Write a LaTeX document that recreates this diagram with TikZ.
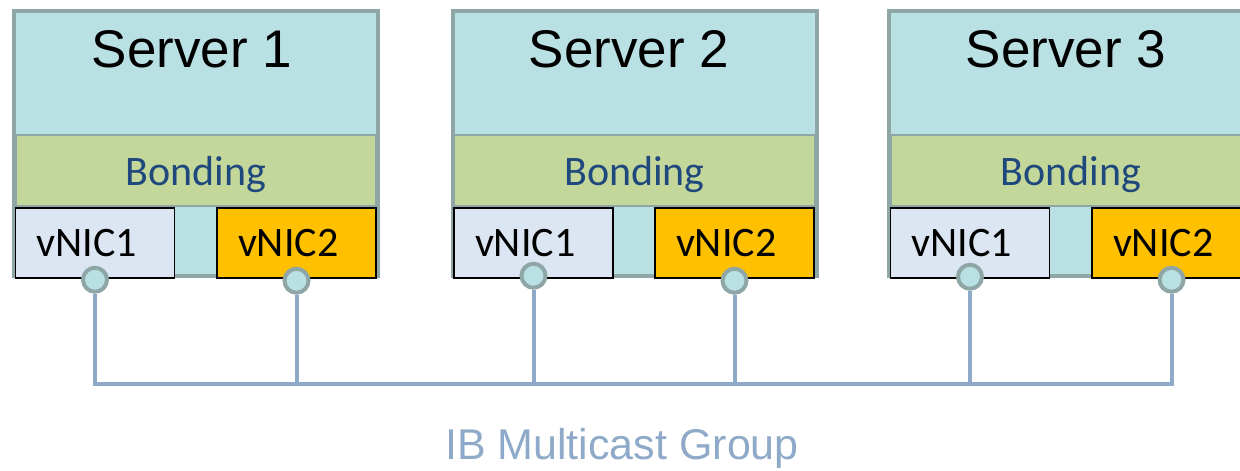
\documentclass[tikz,border=0pt]{standalone}
\usepackage{fontspec}
\setmainfont{Liberation Sans}
\newfontfamily\calibri{Carlito}
\usepackage{tikz}

\definecolor{serverfill}{HTML}{B9E0E3}
\definecolor{servergray}{HTML}{8FA6A6}
\definecolor{bondfill}{HTML}{C4D79B}
\definecolor{bondtext}{HTML}{1F497D}
\definecolor{nicone}{HTML}{DCE6F2}
\definecolor{nictwo}{HTML}{FFC000}
\definecolor{wirecol}{HTML}{8EAAC8}

\begin{document}
\begin{tikzpicture}[x=1pt,y=-1pt]
\useasboundingbox (0,0) rectangle (1240,471);
\clip (0,0) rectangle (1240,471);

\begin{scope}[every node/.style={rectangle,draw=servergray,line width=4pt,fill=serverfill,
	minimum width=364pt,minimum height=265pt,inner sep=0pt}]
	\node (server1) at (196,143.5) {};
	\node (server2) at (634.5,143.5) {};
	\node (server3) at (1071,143.5) {};
\end{scope}

\begin{scope}[every node/.style={anchor=base,font=\fontsize{53}{60}\selectfont}]
	\node (title1) at (192,67) {Server 1};
	\node (title2) at (629,67) {Server 2};
	\node (title3) at (1066,67) {Server 3};
\end{scope}

\begin{scope}[every node/.style={rectangle,draw=servergray,line width=1.5pt,fill=bondfill,
	minimum width=360pt,minimum height=71pt,text depth=0pt,text=bondtext,
	font=\calibri\fontsize{42}{48}\selectfont}]
	\node (bond1) at (196,170.5) {Bonding};
	\node (bond2) at (634.5,170.5) {Bonding};
	\node (bond3) at (1071,170.5) {Bonding};
\end{scope}

\begin{scope}[every node/.style={rectangle,draw=black,line width=1.5pt,minimum height=70pt,
	inner xsep=21pt,text width=117pt,align=left,text height=27pt,text depth=0pt,
	font=\calibri\fontsize{42}{48}\selectfont}]
	\node[fill=nicone] (nic11) at (95,243) {vNIC1};
	\node[fill=nictwo] (nic12) at (296.5,243) {vNIC2};
	\node[fill=nicone] (nic21) at (533.5,243) {vNIC1};
	\node[fill=nictwo] (nic22) at (734.5,243) {vNIC2};
	\node[fill=nicone] (nic31) at (970,243) {vNIC1};
	\node[fill=nictwo] (nic32) at (1171.5,243) {vNIC2};
\end{scope}

\begin{scope}[every node/.style={circle,draw=servergray,line width=4pt,fill=serverfill,
	minimum size=24pt,inner sep=0pt}]
	\node (pin11) at ([yshift=-1pt]nic11.south) {};
	\node (pin12) at ([yshift=-2pt]nic12.south) {};
	\node (pin21) at ([yshift=3pt]nic21.south) {};
	\node (pin22) at ([yshift=-2pt]nic22.south) {};
	\node (pin31) at ([yshift=2pt]nic31.south) {};
	\node (pin32) at ([yshift=-1pt]nic32.south) {};
\end{scope}

\coordinate (bus) at (0,384);
\begin{scope}[wirecol,line width=4pt]
	\draw (pin11.south) |- (pin32 |- bus) -- (pin32.south);
	\draw (pin12.south) -- (pin12 |- bus);
	\draw (pin21.south) -- (pin21 |- bus);
	\draw (pin22.south) -- (pin22 |- bus);
	\draw (pin31.south) -- (pin31 |- bus);
\end{scope}

\node[anchor=base,text=wirecol,font=\fontsize{43}{50}\selectfont] (group) at (622,459) {IB Multicast Group};
\end{tikzpicture}
\end{document}
